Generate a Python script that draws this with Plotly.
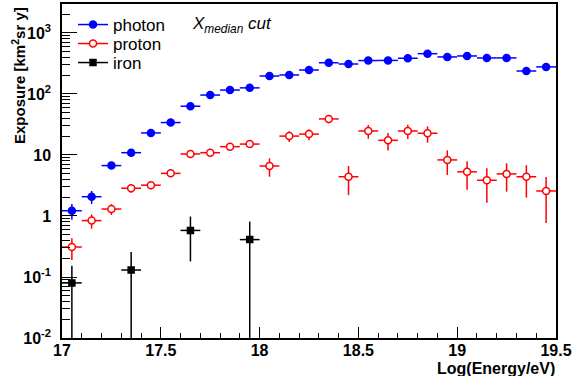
import plotly.graph_objects as go

# bin centres (log10 E/eV), bin half-width
energy = [17.05, 17.15, 17.25, 17.35, 17.45, 17.55, 17.65, 17.75, 17.85, 17.95,
          18.05, 18.15, 18.25, 18.35, 18.45, 18.55, 18.65, 18.75, 18.85, 18.95,
          19.05, 19.15, 19.25, 19.35, 19.45]
half_width = 0.05

photon = [1.22, 2.07, 6.7, 10.9, 23, 34, 63, 96, 116, 126,
          197, 205, 247, 325, 310, 353, 355, 385, 458, 405,
          420, 390, 390, 238, 278]
photon_err = [0.35, 0.5, 0.4, 0.5, 1.0, 1.5, 2.5, 3.5, 4, 4,
              6, 6, 7, 9, 8, 9, 9, 10, 12, 10,
              10, 10, 10, 7, 8]

proton = [0.31, 0.84, 1.30, 2.85, 3.2, 5.0, 10.4, 10.9, 13.7, 15.1,
          6.6, 20.4, 22, 39, 4.4, 24.7, 17.4, 24.7, 22.7, 8.3,
          5.3, 3.85, 4.9, 4.4, 2.57]
proton_err = [0.12, 0.22, 0.26, 0.45, 0.45, 0.6, 1.0, 1.1, 1.4, 1.6,
              2.2, 4.0, 4.5, 6.0, 2.2, 6.3, 5.5, 6.5, 6.8, 3.6,
              2.6, 2.2, 2.4, 2.4, 1.8]

iron_energy = [17.05, 17.35, 17.65, 17.95]
iron = [0.080, 0.13, 0.58, 0.41]
iron_err = [0.073, 0.127, 0.40, 0.40]

y_tickvals = [0.01, 0.1, 1, 10, 100, 1000]
y_ticktext = ["10<sup>-2</sup>", "10<sup>-1</sup>", "1", "10", "10<sup>2</sup>", "10<sup>3</sup>"]
x_tickvals = [17, 17.5, 18, 18.5, 19, 19.5]
x_ticktext = ["17", "17.5", "18", "18.5", "19", "19.5"]

Y_MIN = 0.01
BLUE = "#0000ff"
RED = "#ff0000"
BLACK = "#000000"
FONT = "Liberation Sans, Arial, sans-serif"

# plot-area geometry in pixels
L, R, T, B = 62, 16, 4, 38
W, H = 572, 376
PW, PH = W - L - R, H - T - B


def px(x):
    return (x - L) / PW


def py(y):
    return (H - B - y) / PH


fig = go.Figure()


def add_series(x, y, err, color, symbol, fill, size, name, legend, err_minus=None):
    fig.add_trace(go.Scatter(
        x=x, y=y, mode="markers", showlegend=False, name=name,
        marker=dict(symbol=symbol, size=size, color=fill,
                    line=dict(color=color, width=1.5)),
        error_x=dict(type="constant", value=half_width, color=color,
                     thickness=1.5, width=0),
        error_y=dict(type="data", array=err,
                     arrayminus=err_minus if err_minus is not None else err,
                     symmetric=False, color=color, thickness=1.5, width=0),
    ))
    # legend entry (line + marker, like ROOT "lp")
    fig.add_trace(go.Scatter(
        x=[None], y=[None], mode="lines+markers", name=name, legend=legend,
        marker=dict(symbol=symbol, size=size, color=fill,
                    line=dict(color=color, width=1.5)),
        line=dict(color=color, width=1.5),
    ))


add_series(energy, photon, photon_err, BLUE, "circle", BLUE, 7, "photon", "legend")
add_series(energy, proton, proton_err, RED, "circle", "white", 7, "proton", "legend2")
iron_minus = [min(e, v - Y_MIN * 1.001) for v, e in zip(iron, iron_err)]
add_series(iron_energy, iron, iron_err, BLACK, "square", BLACK, 6, "iron", "legend3",
           err_minus=iron_minus)

axis_font = dict(family=FONT, size=16, color="black", weight="bold")


def legend_at(ycenter):
    return dict(
        x=px(73), y=py(ycenter), xanchor="left", yanchor="middle",
        bgcolor="rgba(0,0,0,0)", borderwidth=0,
        font=dict(family=FONT, size=17, color="black"),
        itemwidth=30,
    )


fig.update_layout(
    width=W, height=H,
    margin=dict(l=L, r=R, t=T, b=B),
    paper_bgcolor="white", plot_bgcolor="white",
    font=dict(family=FONT, color="black"),
    xaxis=dict(
        range=[17, 19.5], showgrid=False, zeroline=False, automargin=False,
        showline=True, linecolor="black", linewidth=1.5, mirror=True,
        ticks="inside", ticklen=11, tickwidth=1, tickcolor="black",
        tickmode="array", tickvals=x_tickvals, ticktext=x_ticktext,
        tickfont=axis_font, ticklabelstandoff=-3,
        minor=dict(ticks="inside", ticklen=5, tickcolor="black",
                   dtick=0.1, tick0=17, showgrid=False),
    ),
    yaxis=dict(
        type="log", range=[-2, 3.475], showgrid=False, zeroline=False,
        automargin=False,
        showline=True, linecolor="black", linewidth=1.5, mirror=True,
        ticks="inside", ticklen=15, tickwidth=1, tickcolor="black",
        tickmode="array", tickvals=y_tickvals, ticktext=y_ticktext,
        tickfont=axis_font, ticklabelstandoff=6,
        minor=dict(ticks="inside", ticklen=8, tickcolor="black",
                   dtick="D1", showgrid=False),
    ),
    legend=legend_at(25),
    legend2=legend_at(44),
    legend3=legend_at(63),
    annotations=[
        dict(text="<i>X<sub>median</sub> cut</i>", xref="paper", yref="paper",
             x=px(190), y=py(25), xanchor="left",
             yanchor="middle", showarrow=False,
             font=dict(family=FONT, size=17, color="black")),
        dict(text="Exposure [km<sup>2</sup>sr y]", xref="paper", yref="paper",
             x=px(18), y=py(76), xanchor="center",
             yanchor="middle", textangle=-90, showarrow=False,
             font=dict(family=FONT, size=15, color="black", weight="bold")),
        dict(text="Log(Energy/eV)", xref="paper", yref="paper",
             x=px(557), y=py(368), xanchor="right",
             yanchor="middle", showarrow=False,
             font=dict(family=FONT, size=16, color="black", weight="bold")),
    ],
)

fig.write_html("out.html", config={"displayModeBar": False},
               post_script="document.body.style.margin='0px';")
